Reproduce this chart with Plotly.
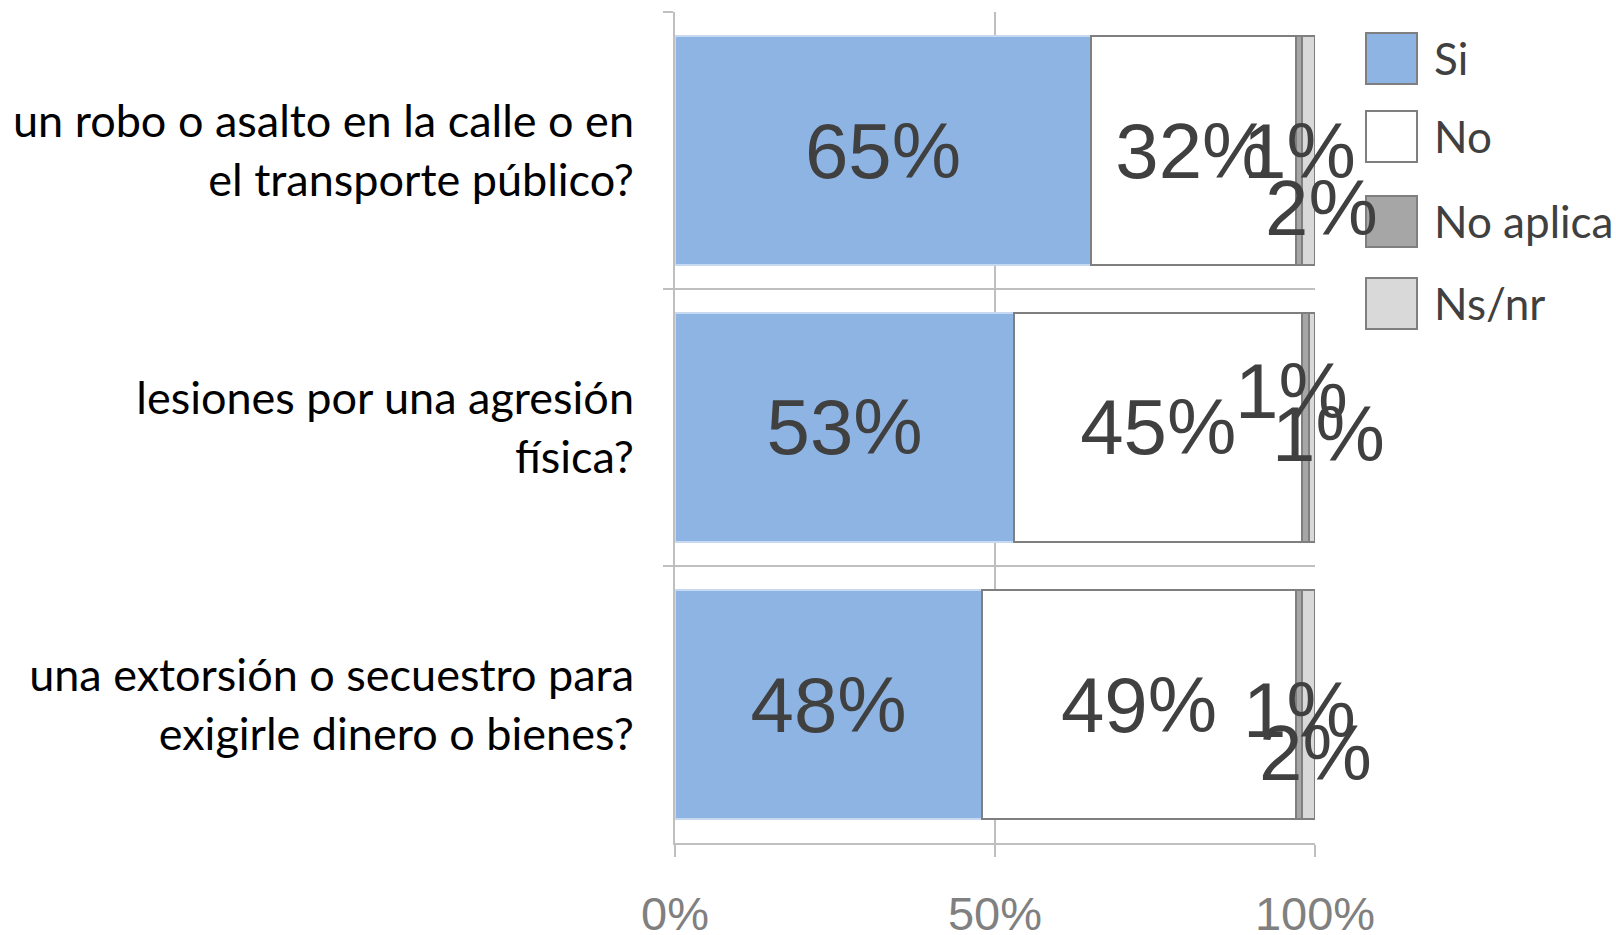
import plotly.graph_objects as go

# Survey questions, listed top to bottom
categories = [
    "un robo o asalto en la calle o en<br>el transporte público?",
    "lesiones por una agresión<br>física?",
    "una extorsión o secuestro para<br>exigirle dinero o bienes?",
]

series_names = ["Si", "No", "No aplica", "Ns/nr"]
si_values = [65, 53, 48]
no_values = [32, 45, 49]
no_aplica_values = [1, 1, 1]
nsnr_values = [2, 1, 2]

x_tick_values = [0, 50, 100]
x_tick_labels = ["0%", "50%", "100%"]

fill_colors = ["#8EB4E3", "#FFFFFF", "#A6A6A6", "#D9D9D9"]
line_colors = ["#C6D9F1", "#7F7F7F", "#7F7F7F", "#7F7F7F"]

all_series = [si_values, no_values, no_aplica_values, nsnr_values]

LABEL_FONT = dict(family="Liberation Sans, Arial, sans-serif", size=78, color="#404040")
TEXT_FONT = "Lato, Calibri, sans-serif"

fig = go.Figure()
for idx, (name, vals) in enumerate(zip(series_names, all_series)):
    big = idx < 2
    fig.add_trace(go.Bar(
        name=name,
        y=categories,
        x=vals,
        orientation="h",
        marker=dict(color=fill_colors[idx], line=dict(color=line_colors[idx], width=2)),
        text=[f"{v}%" for v in vals] if big else None,
        texttemplate="%{text}" if big else None,
        textposition="inside" if big else "none",
        insidetextanchor="middle",
        constraintext="none",
        textfont=LABEL_FONT,
        showlegend=False,
        hoverinfo="skip",
    ))

# Labels of the two thin segments, nudged off the bar ends
small_offsets = {
    2: [(0, 0), (-14, 37), (0, -5)],
    3: [(13, -57), (17, -6), (7, -48)],
}
for idx in (2, 3):
    for row, cat in enumerate(categories):
        start = sum(all_series[k][row] for k in range(idx))
        val = all_series[idx][row]
        dx, dy = small_offsets[idx][row]
        fig.add_annotation(
            x=start + val / 2, y=cat, text=f"{val}%", showarrow=False,
            xshift=dx, yshift=dy, font=LABEL_FONT,
        )

# Legend drawn as square swatches with labels (pixel tops of each swatch)
legend_tops = [33, 111, 196, 278]
for i, name in enumerate(series_names):
    top = legend_tops[i]
    fig.add_shape(
        type="rect", xref="paper", yref="paper",
        x0=(1366 - 675) / 640, x1=(1417 - 675) / 640,
        y0=(843 - top) / 831, y1=(843 - top - 51) / 831,
        fillcolor=fill_colors[i], line=dict(color="#7F7F7F", width=2),
    )
    fig.add_annotation(
        xref="paper", yref="paper", x=(1432 - 675) / 640, y=(843 - top - 25) / 831,
        text=name, showarrow=False, xanchor="left", yanchor="middle",
        font=dict(family=TEXT_FONT, size=44, color="#404040"),
    )

fig.update_layout(
    barmode="stack",
    bargap=0.17,
    width=1616,
    height=935,
    margin=dict(l=675, r=301, t=12, b=92),
    paper_bgcolor="white",
    plot_bgcolor="white",
    showlegend=False,
    xaxis=dict(
        range=[0, 100],
        tickvals=x_tick_values,
        ticktext=x_tick_labels,
        showgrid=True,
        gridcolor="#BFBFBF",
        gridwidth=2,
        zeroline=False,
        showline=True,
        linecolor="#BFBFBF",
        linewidth=2,
        ticks="outside",
        ticklen=12,
        tickwidth=2,
        tickcolor="#BFBFBF",
        tickfont=dict(family="Liberation Sans, Arial, sans-serif", size=47, color="#808080"),
        ticklabelstandoff=17,
        automargin=False,
        fixedrange=True,
    ),
    yaxis=dict(
        type="category",
        autorange="reversed",
        tickson="boundaries",
        showgrid=True,
        gridcolor="#BFBFBF",
        gridwidth=2,
        showline=True,
        linecolor="#BFBFBF",
        linewidth=2,
        ticks="outside",
        ticklen=10,
        tickwidth=2,
        tickcolor="#BFBFBF",
        tickfont=dict(family=TEXT_FONT, size=45, color="#000000"),
        ticklabelstandoff=30,
        automargin=False,
        fixedrange=True,
    ),
)

fig.write_html("out.html")
